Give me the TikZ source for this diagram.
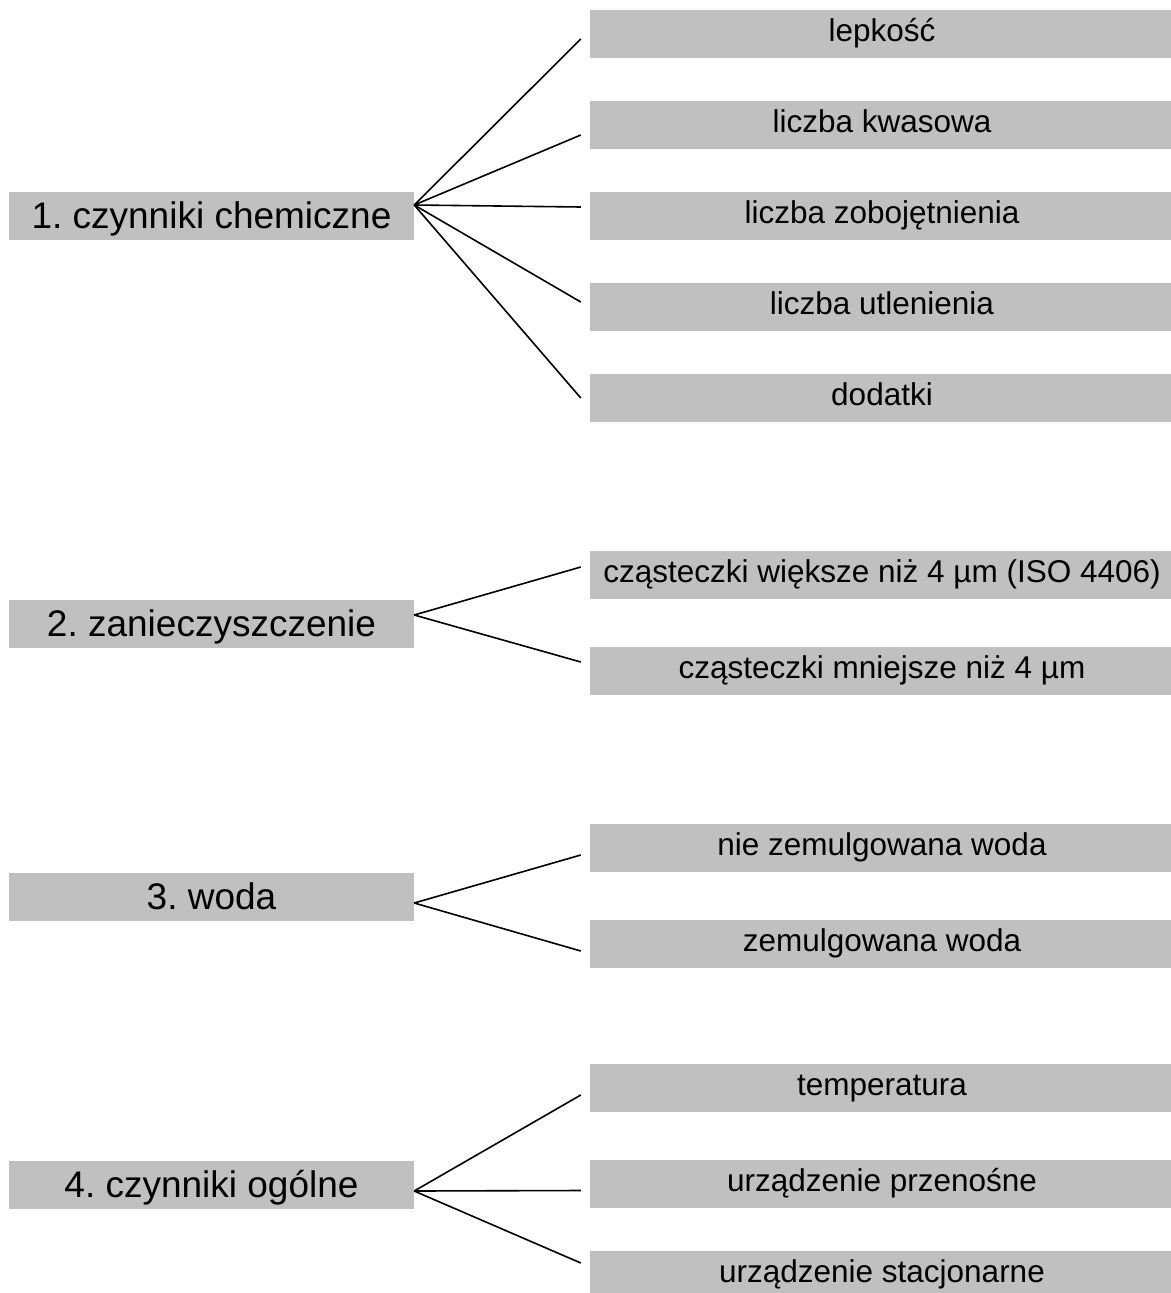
\documentclass[tikz,border=0pt]{standalone}
\usepackage{fontspec}
\setmainfont{Liberation Sans}
\usetikzlibrary{positioning}
\frenchspacing

\definecolor{boxgray}{HTML}{C0C0C0}

\begin{document}
\begin{tikzpicture}[x=1pt, y=-1pt,
    factor/.style={fill=boxgray, inner sep=0pt, minimum width=405pt, minimum height=48pt,
        font=\fontsize{37}{40}\selectfont, text height=26.5pt, text depth=1pt},
    detail/.style={fill=boxgray, inner sep=0pt, minimum width=584pt, minimum height=48pt,
        font=\fontsize{31.5}{34}\selectfont, text height=22.5pt, text depth=7.5pt},
    branch/.style={line width=1.6pt}]
    \useasboundingbox (0,0) rectangle (1170,1293);

    % Define nodes
	\node[factor] (Chem) at (211.5, 216) {1. czynniki chemiczne};
	\node[factor] (Dirt) at (211.5, 623.5) {2. zanieczyszczenie};
	\node[factor] (Water) at (211.5, 896.5) {3. woda};
	\node[factor] (General) at (211.5, 1184.5) {4. czynniki ogólne};

	\node[detail] (Visc) at (882, 34) {lepkość};
	\node[detail] (Acid) at (882, 125) {liczba kwasowa};
	\node[detail] (Neutral) at (882, 216) {liczba zobojętnienia};
	\node[detail] (Oxid) at (882, 307) {liczba utlenienia};
	\node[detail] (Additive) at (882, 398) {dodatki};

	\node[detail] (BigPart) at (882, 575) {cząsteczki większe niż 4 µm (ISO 4406)};
	\node[detail] (SmallPart) at (882, 671) {cząsteczki mniejsze niż 4 µm};

	\node[detail] (FreeWater) at (882, 848) {nie zemulgowana woda};
	\node[detail] (EmulWater) at (882, 944) {zemulgowana woda};

	\node[detail] (Temp) at (882, 1088) {temperatura};
	\node[detail] (Mobile) at (882, 1184) {urządzenie przenośne};
	\node[detail] (Fixed) at (882, 1275) {urządzenie stacjonarne};

    % Draw branches
	\draw[branch] ([yshift=11pt]Chem.east) -- ([xshift=-9pt, yshift=-5pt]Visc.west);
	\draw[branch] ([yshift=11pt]Chem.east) -- ([xshift=-9pt, yshift=-10pt]Acid.west);
	\draw[branch] ([yshift=11pt]Chem.east) -- ([xshift=-9pt, yshift=9pt]Neutral.west);
	\draw[branch] ([yshift=11pt]Chem.east) -- ([xshift=-9pt, yshift=5pt]Oxid.west);
	\draw[branch] ([yshift=11pt]Chem.east) -- ([xshift=-9pt]Additive.west);

	\draw[branch] ([yshift=8.5pt]Dirt.east) -- ([xshift=-9pt, yshift=8pt]BigPart.west);
	\draw[branch] ([yshift=8.5pt]Dirt.east) -- ([xshift=-9pt, yshift=9pt]SmallPart.west);

	\draw[branch] ([yshift=-6.5pt]Water.east) -- ([xshift=-9pt, yshift=-7pt]FreeWater.west);
	\draw[branch] ([yshift=-6.5pt]Water.east) -- ([xshift=-9pt, yshift=-7pt]EmulWater.west);

	\draw[branch] ([yshift=-6.5pt]General.east) -- ([xshift=-9pt, yshift=-7pt]Temp.west);
	\draw[branch] ([yshift=-6.5pt]General.east) -- ([xshift=-9pt, yshift=-6.5pt]Mobile.west);
	\draw[branch] ([yshift=-6.5pt]General.east) -- ([xshift=-9pt, yshift=12pt]Fixed.west);
\end{tikzpicture}
\end{document}
